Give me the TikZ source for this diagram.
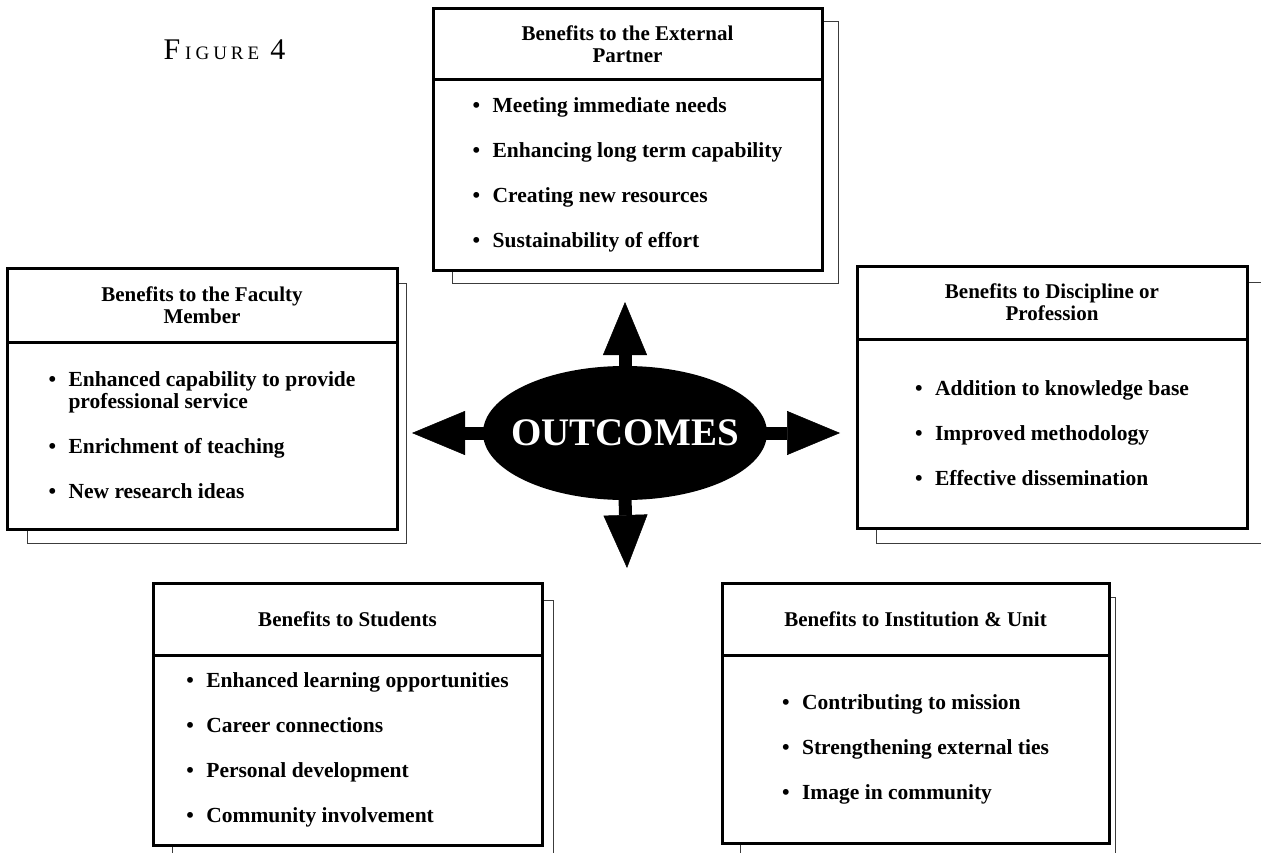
\documentclass[tikz,border=0pt]{standalone}
\usepackage{fontspec}
\setmainfont{Liberation Serif}
\usepackage{tikz}
\usetikzlibrary{arrows.meta,shapes.geometric}
\definecolor{shadowgray}{RGB}{60,60,60}
\newcommand{\bul}{\makebox[20pt][l]{\textbullet}}

\begin{document}
\begin{tikzpicture}[x=1pt,y=-1pt,
    boxhead/.style={draw,line width=3pt,fill=white,align=center,inner sep=0pt,outer sep=0pt,
      font=\fontsize{21}{22}\selectfont\bfseries},
    boxbody/.style={draw,line width=3pt,fill=white,align=left,inner sep=0pt,outer sep=0pt,
      font=\fontsize{21.5}{22}\selectfont\bfseries},
    shadowline/.style={draw=shadowgray,line width=1pt},
    bigarrow/.style={line width=13pt,-{Triangle[length=53pt,width=44pt,line width=0.5pt]}}]
    \useasboundingbox (0,0) rectangle (1261,853);

    % shadows behind the boxes
    \draw[shadowline] (452,22) rectangle (838,283);
    \draw[shadowline] (27,283) rectangle (406,543);
    \draw[shadowline] (876,282) rectangle (1275,543);
    \draw[shadowline] (172,600) rectangle (553,870);
    \draw[shadowline] (740,597) rectangle (1115,870);

    \node[anchor=base west,font=\fontsize{30}{30}\selectfont] (figlabel) at (160,60)
        {F\hspace{5pt}{\fontsize{19}{19}\selectfont I\hspace{4pt}G\hspace{4pt}U\hspace{4pt}R\hspace{4pt}E}\hspace{11pt}4};

    % External partner
    \node[boxhead,anchor=north west,minimum width=389pt,minimum height=71pt] (partnerhead) at (433,9)
        {Benefits to the External\\Partner};
    \node[boxbody,anchor=north,minimum width=389pt,minimum height=190pt] (partnerbody) at (partnerhead.south)
        {\bul Meeting immediate needs\\[23pt]\bul Enhancing long term capability\\[23pt]
         \bul Creating new resources\\[23pt]\bul Sustainability of effort};

    % Faculty member
    \node[boxhead,anchor=north west,minimum width=390pt,minimum height=74pt] (facultyhead) at (7,268)
        {Benefits to the Faculty\\Member};
    \node[boxbody,anchor=north,minimum width=390pt,minimum height=187pt] (facultybody) at (facultyhead.south)
        {\bul Enhanced capability to provide\\[0pt]\hspace{20pt}professional service\\[23pt]
         \bul Enrichment of teaching\\[23pt]\bul New research ideas};

    % Discipline
    \node[boxhead,anchor=north west,minimum width=390pt,minimum height=73pt] (disciplinehead) at (857,266)
        {Benefits to Discipline or\\Profession};
    \node[boxbody,anchor=north,minimum width=390pt,minimum height=189pt] (disciplinebody) at (disciplinehead.south)
        {\bul Addition to knowledge base\\[23pt]\bul Improved methodology\\[23pt]
         \bul Effective dissemination};

    % Students
    \node[boxhead,anchor=north west,minimum width=389pt,minimum height=72pt] (studenthead) at (153,583)
        {Benefits to Students};
    \node[boxbody,anchor=north,minimum width=389pt,minimum height=190pt] (studentbody) at (studenthead.south)
        {\bul Enhanced learning opportunities\\[23pt]\bul Career connections\\[23pt]
         \bul Personal development\\[23pt]\bul Community involvement};

    % Institution
    \node[boxhead,anchor=north west,minimum width=387pt,minimum height=72pt] (insthead) at (722,583)
        {Benefits to Institution \& Unit};
    \node[boxbody,anchor=north,minimum width=387pt,minimum height=188pt] (instbody) at (insthead.south)
        {\bul Contributing to mission\\[23pt]\bul Strengthening external ties\\[23pt]
         \bul Image in community};

    % centre
    \node[ellipse,fill=black,minimum width=284pt,minimum height=134pt,inner sep=0pt] (out) at (625,433) {};
    \node[text=white,font=\fontsize{39}{39}\selectfont\bfseries] (outtext) at (out.center) {OUTCOMES};

    \coordinate (uptip) at (625,302);
    \coordinate (downtip) at (627,568);
    \coordinate (lefttip) at (412,433);
    \coordinate (righttip) at (840,433);
    \draw[bigarrow] ([yshift=-3pt]out.north) -- (uptip);
    \draw[bigarrow] ([yshift=3pt]out.south) -- (downtip);
    \draw[bigarrow] ([xshift=3pt]out.west) -- (lefttip);
    \draw[bigarrow] ([xshift=-3pt]out.east) -- (righttip);
\end{tikzpicture}
\end{document}
